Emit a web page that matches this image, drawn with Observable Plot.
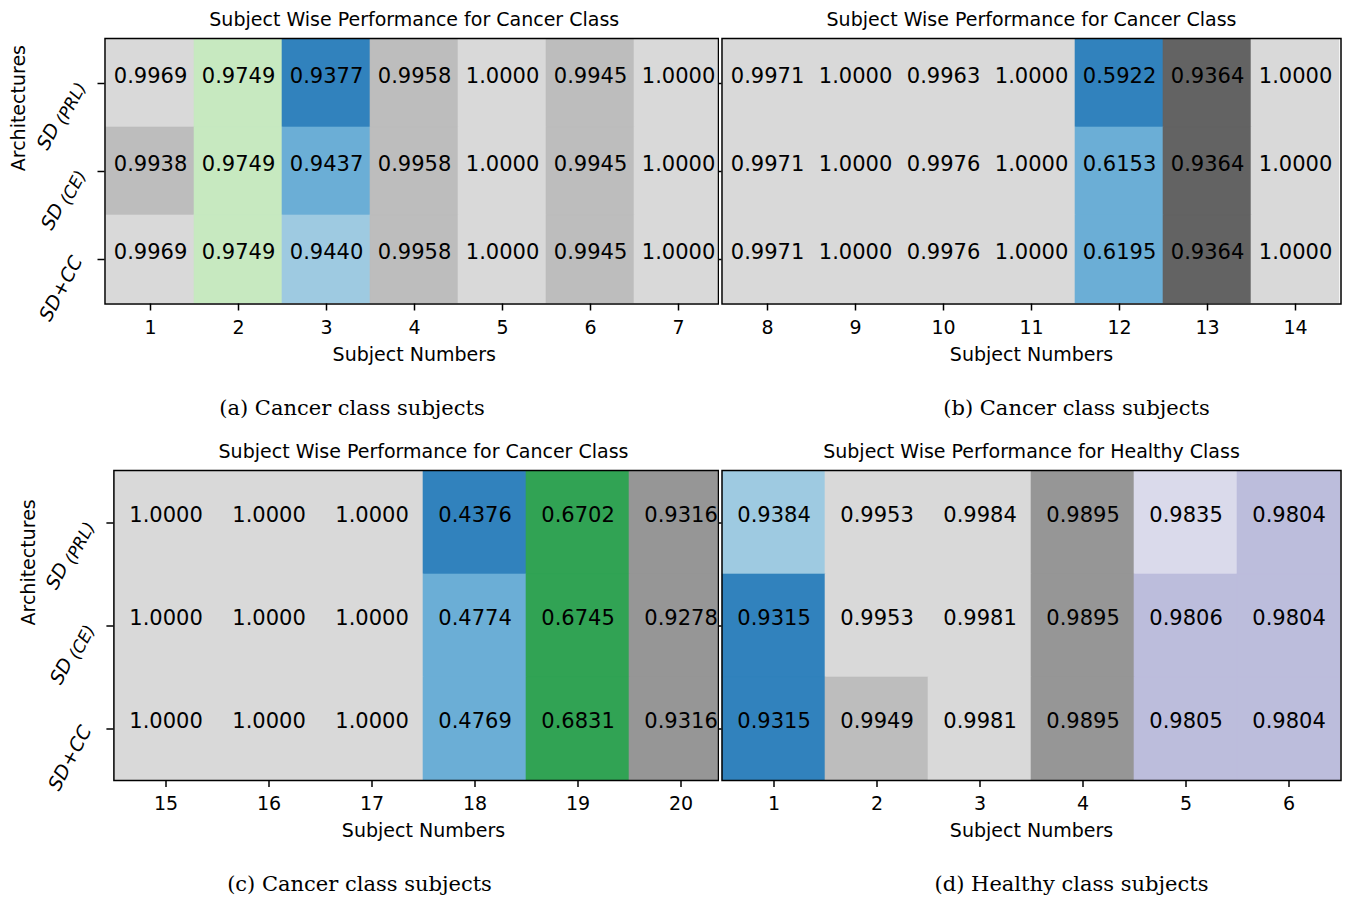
<!DOCTYPE html>
<html><head><meta charset="utf-8">
<script src="https://cdn.jsdelivr.net/npm/d3@7"></script>
<script src="https://cdn.jsdelivr.net/npm/@observablehq/plot@0.6"></script>
<style>
body{margin:0;background:#fff;}
#root{position:relative;width:1346px;height:897px;overflow:hidden;background:#fff;}
.panel{position:absolute;}
.panel svg{display:block;}
.cap{position:absolute;font-family:"DejaVu Serif";font-size:21px;line-height:1;white-space:nowrap;transform:translate(-50%,-50%);color:#000;}
</style></head><body><div id="root"></div>
<script>
// ---- data ----
const archs = ["SD (PRL)", "SD (CE)", "SD+CC"];

const subjectsA = [1, 2, 3, 4, 5, 6, 7];
const valuesA_PRL = [0.9969, 0.9749, 0.9377, 0.9958, 1.0000, 0.9945, 1.0000];
const valuesA_CE  = [0.9938, 0.9749, 0.9437, 0.9958, 1.0000, 0.9945, 1.0000];
const valuesA_CC  = [0.9969, 0.9749, 0.9440, 0.9958, 1.0000, 0.9945, 1.0000];

const subjectsB = [8, 9, 10, 11, 12, 13, 14];
const valuesB_PRL = [0.9971, 1.0000, 0.9963, 1.0000, 0.5922, 0.9364, 1.0000];
const valuesB_CE  = [0.9971, 1.0000, 0.9976, 1.0000, 0.6153, 0.9364, 1.0000];
const valuesB_CC  = [0.9971, 1.0000, 0.9976, 1.0000, 0.6195, 0.9364, 1.0000];

const subjectsC = [15, 16, 17, 18, 19, 20];
const valuesC_PRL = [1.0000, 1.0000, 1.0000, 0.4376, 0.6702, 0.9316];
const valuesC_CE  = [1.0000, 1.0000, 1.0000, 0.4774, 0.6745, 0.9278];
const valuesC_CC  = [1.0000, 1.0000, 1.0000, 0.4769, 0.6831, 0.9316];

const subjectsD = [1, 2, 3, 4, 5, 6];
const valuesD_PRL = [0.9384, 0.9953, 0.9984, 0.9895, 0.9835, 0.9804];
const valuesD_CE  = [0.9315, 0.9953, 0.9981, 0.9895, 0.9806, 0.9804];
const valuesD_CC  = [0.9315, 0.9949, 0.9981, 0.9895, 0.9805, 0.9804];

const titleCancer = "Subject Wise Performance for Cancer Class";
const titleHealthy = "Subject Wise Performance for Healthy Class";
const xLabel = "Subject Numbers";
const yLabel = "Architectures";
const captions = ["(a) Cancer class subjects", "(b) Cancer class subjects", "(c) Cancer class subjects", "(d) Healthy class subjects"];

// matplotlib tab20c colormap
const tab20c = ["#3182bd","#6baed6","#9ecae1","#c6dbef","#e6550d","#fd8d3c","#fdae6b","#fdd0a2",
  "#31a354","#74c476","#a1d99b","#c7e9c0","#756bb1","#9e9ac8","#bcbddc","#dadaeb",
  "#636363","#969696","#bdbdbd","#d9d9d9"];

const fmt = d3.format(".4f");
const root = document.getElementById("root");

function panel(o) {
  const rows = archs.flatMap((a, i) => o.subjects.map((s, j) => ({arch: a, subject: s, value: o.values[i][j]})));
  const [lo, hi] = d3.extent(rows, d => d.value);
  const thresholds = d3.range(1, tab20c.length).map(k => lo + k * (hi - lo) / tab20c.length);
  const mL = o.frameLeft - o.left, mR = o.left + o.width - o.frameRight;
  const mT = o.frameTop - o.top, mB = o.top + o.height - o.frameBottom;
  const xr = [o.frameLeft - o.left, o.cellRight - o.left];
  const cdx = (o.cellRight - o.frameRight) / 2;
  const marks = [
    Plot.cell(rows, {x: "subject", y: "arch", fill: "value", stroke: "value", strokeWidth: 0.6, clip: true}),
    Plot.text(rows, {x: "subject", y: "arch", text: d => fmt(d.value), fontSize: 21, fill: "black", lineAnchor: "bottom", dy: -1, clip: true}),
    Plot.frame({stroke: "black", strokeWidth: 1.5}),
    Plot.axisX({tickSize: 7, tickPadding: 9, fontSize: 19, label: null, strokeWidth: 1.5}),
    Plot.axisY({tickSize: 7, tickFormat: () => "", label: null, strokeWidth: 1.5}),
    Plot.text([o.title], {text: d => d, frameAnchor: "top", dy: -19, dx: cdx, fontSize: 19, lineAnchor: "middle"}),
    Plot.text([xLabel], {text: d => d, frameAnchor: "bottom", dy: 50.5, dx: cdx, fontSize: 19, lineAnchor: "middle"})
  ];
  if (o.showY) {
    marks.push(Plot.text([yLabel], {text: d => d, frameAnchor: "left", dx: o.yLabelDx, rotate: -90, fontSize: 19, lineAnchor: "middle"}));
    marks.push(Plot.text(archs, {y: d => d, text: d => d, frameAnchor: "left", dx: -22, dy: 1, rotate: -62, textAnchor: "end", lineAnchor: "bottom", fontSize: 19}));
  }
  const svg = Plot.plot({
    width: o.width, height: o.height,
    marginLeft: mL, marginRight: mR, marginTop: mT, marginBottom: mB,
    style: {fontFamily: "DejaVu Sans", fontSize: "19px", background: o.bg, color: "black", overflow: "hidden"},
    x: {type: "band", domain: o.subjects, range: xr, padding: 0},
    y: {type: "band", domain: archs, padding: 0},
    color: {type: "threshold", domain: thresholds, range: tab20c},
    marks
  });
  // math-style tick labels
  svg.querySelectorAll("text").forEach(t => {
    const s = t.textContent;
    if (!archs.includes(s) || t.children.length > 1) return;
    const NS = "http://www.w3.org/2000/svg";
    const mk = (txt, attrs) => { const e = document.createElementNS(NS, "tspan"); e.textContent = txt; for (const k in attrs) e.setAttribute(k, attrs[k]); return e; };
    t.textContent = "";
    if (s === "SD+CC") {
      t.appendChild(mk("SD", {"font-style": "italic"}));
      t.appendChild(mk("+", {"dx": 0.5}));
      t.appendChild(mk("CC", {"font-style": "italic", "dx": 0.5}));
    } else {
      const sub = s.slice(3);
      t.appendChild(mk("SD", {"font-style": "italic"}));
      t.appendChild(mk(sub, {"font-style": "italic", "font-size": 17, "dy": 4, "dx": 4}));
    }
  });
  const div = document.createElement("div");
  div.className = "panel";
  div.style.left = o.left + "px"; div.style.top = o.top + "px";
  div.appendChild(svg);
  root.appendChild(div);
}

panel({subjects: subjectsA, values: [valuesA_PRL, valuesA_CE, valuesA_CC], title: titleCancer,
  left: 0, top: 0, width: 719, height: 380, frameLeft: 104.5, frameRight: 718, cellRight: 723,
  frameTop: 38, frameBottom: 303.5, showY: true, yLabelDx: -86, bg: "transparent"});
panel({subjects: subjectsC, values: [valuesC_PRL, valuesC_CE, valuesC_CC], title: titleCancer,
  left: 0, top: 432, width: 719, height: 428, frameLeft: 113.4, frameRight: 718, cellRight: 732.6,
  frameTop: 470, frameBottom: 780, showY: true, yLabelDx: -85, bg: "transparent"});
panel({subjects: subjectsB, values: [valuesB_PRL, valuesB_CE, valuesB_CC], title: titleCancer,
  left: 719, top: 0, width: 627, height: 380, frameLeft: 721.5, frameRight: 1340.5, cellRight: 1340.5,
  frameTop: 38, frameBottom: 303.5, showY: false, bg: "white"});
panel({subjects: subjectsD, values: [valuesD_PRL, valuesD_CE, valuesD_CC], title: titleHealthy,
  left: 719, top: 432, width: 627, height: 428, frameLeft: 721.5, frameRight: 1340.5, cellRight: 1340.5,
  frameTop: 470, frameBottom: 780, showY: false, bg: "white"});

const capPos = [[352, 408], [1076.5, 408], [359.5, 884], [1071.5, 884]];
captions.forEach((c, i) => {
  const d = document.createElement("div");
  d.className = "cap"; d.textContent = c;
  d.style.left = capPos[i][0] + "px"; d.style.top = capPos[i][1] + "px";
  root.appendChild(d);
});
</script></body></html>
